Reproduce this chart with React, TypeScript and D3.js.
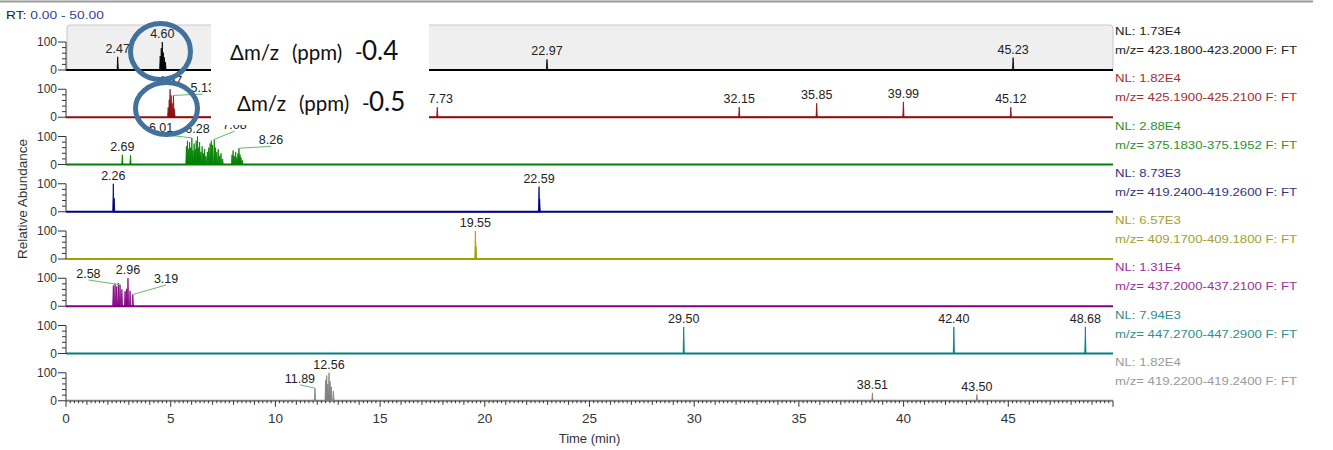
import React from 'react';
import * as d3 from 'd3';

// Retention time axis and abundance axis
const rtDomain: [number, number] = [0, 50];
const rtTicks = [0, 5, 10, 15, 20, 25, 30, 35, 40, 45];
const abundanceDomain: [number, number] = [0, 100];
const abundanceTicks = [0, 100];
const abundanceMinor = [20, 40, 60, 80];

// Normalisation levels and mass ranges, one per trace
const nlValues = ['1.73E4', '1.82E4', '2.88E4', '8.73E3', '6.57E3', '1.31E4', '7.94E3', '1.82E4'];
const mzRanges = [
  '423.1800-423.2000',
  '425.1900-425.2100',
  '375.1830-375.1952',
  '419.2400-419.2600',
  '409.1700-409.1800',
  '437.2000-437.2100',
  '447.2700-447.2900',
  '419.2200-419.2400',
];

// Peaks: [retention time (min), relative abundance (%)]
const peaksA = [[2.47, 47], [4.5, 50], [4.55, 78], [4.6, 100], [4.65, 62], [4.7, 45], [4.75, 28], [22.97, 38], [45.23, 44]];
const peaksB = [[4.88, 35], [4.93, 62], [4.97, 100], [5.02, 78], [5.07, 50], [5.13, 78], [5.18, 30], [17.73, 36], [32.15, 36], [35.85, 50], [39.99, 55], [45.12, 36]];
const peaksC = [
  [2.69, 35], [3.08, 33],
  [5.75, 65], [5.8, 85], [5.85, 55], [5.9, 80], [5.95, 60], [6.01, 95], [6.06, 50], [6.12, 75], [6.17, 55], [6.22, 85],
  [6.28, 100], [6.33, 60], [6.38, 80], [6.44, 45], [6.5, 65], [6.56, 40], [6.62, 55], [6.68, 30], [6.75, 45], [6.82, 60],
  [6.88, 75], [6.94, 85], [7.0, 70], [7.08, 90], [7.14, 60], [7.2, 45], [7.27, 55], [7.33, 30], [7.4, 40], [7.48, 20],
  [7.93, 35], [7.98, 50], [8.04, 30], [8.1, 45], [8.16, 25], [8.21, 40], [8.26, 58], [8.31, 35], [8.36, 25], [8.42, 15],
];
const peaksD = [[2.26, 100], [2.3, 48], [22.59, 90], [22.62, 45]];
const peaksE = [[19.55, 100], [19.58, 45]];
const peaksF = [[2.26, 74], [2.34, 81], [2.42, 71], [2.5, 83], [2.58, 77], [2.67, 60], [2.82, 54], [2.89, 62], [2.96, 100], [3.06, 55], [3.19, 42]];
const peaksG = [[29.5, 95], [42.4, 95], [48.68, 95]];
const peaksH = [[11.89, 45], [12.4, 75], [12.45, 90], [12.5, 60], [12.56, 100], [12.61, 70], [12.67, 50], [12.77, 35], [38.51, 28], [43.5, 22]];

// Peak labels: [peak rt, label rt, label level]; the last two only where the label is moved aside
const labelsA = [[2.47], [4.6], [22.97], [45.23]];
const labelsB = [[4.97], [5.13, 6.53, 90], [17.73], [32.15], [35.85], [39.99], [45.12]];
const labelsC = [[2.69], [6.01, 4.54, 115], [6.28], [7.08, 8.05, 126], [8.26, 9.79, 72]];
const labelsD = [[2.26], [22.59]];
const labelsE = [[19.55]];
const labelsF = [[2.58, 1.07, 101], [2.96], [3.19, 4.78, 83]];
const labelsG = [[29.5], [42.4], [48.68]];
const labelsH = [[11.89, 11.17, 64], [12.56], [38.51], [43.5]];

const allPeaks = [peaksA, peaksB, peaksC, peaksD, peaksE, peaksF, peaksG, peaksH];
const allLabels = [labelsA, labelsB, labelsC, labelsD, labelsE, labelsF, labelsG, labelsH];

// Styles
const lineColors = ['#000000', '#8b1010', '#008000', '#000080', '#a0a000', '#800080', '#008080', '#808080'];
const textColors = ['#222222', '#a03030', '#2e922e', '#333380', '#a0a030', '#993399', '#2f8f8f', '#9a9a9a'];
const font = '"Liberation Sans", Arial, sans-serif';

const W = 1333;
const H = 450;
const plotLeft = 66;
const plotRight = 1113;
const firstBase = 70;
const panelStep = 47.25;
const panelH = 28;

const App: React.FC = () => {
  const x = d3.scaleLinear().domain(rtDomain).range([plotLeft, plotRight]);
  const halfWidth = 0.03;

  const panels = allPeaks.map((peaks, i) => {
    const base = firstBase + panelStep * i;
    const y = d3.scaleLinear().domain(abundanceDomain).range([base, base - panelH]);
    const pts: [number, number][] = [];
    [...peaks]
      .sort((a, b) => a[0] - b[0])
      .forEach(([rt, h]) => {
        pts.push([rt - halfWidth, 0], [rt, h], [rt + halfWidth, 0]);
      });
    const area = d3
      .area<[number, number]>()
      .x(d => x(d[0]))
      .y0(base)
      .y1(d => y(d[1]));
    return { base, y, path: area(pts) || '' };
  });

  const minorRt = d3.range(0, 50.001, 0.2).map(v => Math.round(v * 10) / 10);
  const lastBase = panels[panels.length - 1].base;

  return (
    <svg
      width={W}
      height={H}
      style={{ position: 'absolute', left: 0, top: 0, background: '#fff' }}
      fontFamily={font}
    >
      {/* top separator */}
      <line x1={0} x2={1313} y1={1.5} y2={1.5} stroke="#999" strokeWidth={2} />

      <text transform="translate(6,19) scale(1.2,1)" fontSize={11.5} fill="#222">
        RT: <tspan fill="#3340a0">0.00 - 50.00</tspan>
      </text>

      {/* highlighted first trace */}
      <rect
        x={plotLeft + 1}
        y={25}
        width={plotRight - plotLeft - 1}
        height={firstBase - 25}
        rx={3}
        fill="#efefef"
        stroke="#c8c8c8"
        strokeWidth={1}
      />

      {panels.map((p, i) => (
        <g key={i}>
          {/* trace */}
          <path d={p.path} fill={lineColors[i]} stroke={lineColors[i]} strokeWidth={0.8} />
          <line x1={plotLeft} x2={plotRight} y1={p.base} y2={p.base} stroke={lineColors[i]} strokeWidth={2} />

          {/* y axis */}
          <line x1={plotLeft} x2={plotLeft} y1={p.base} y2={p.y(100)} stroke="#333" strokeWidth={1} />
          {abundanceTicks.map(t => (
            <g key={t}>
              <line x1={plotLeft - 8} x2={plotLeft} y1={p.y(t)} y2={p.y(t)} stroke="#333" strokeWidth={1} />
              <text x={plotLeft - 9} y={p.y(t) + 4} fontSize={12} textAnchor="end" fill="#333">
                {t}
              </text>
            </g>
          ))}
          {abundanceMinor.map(t => (
            <line key={t} x1={plotLeft - 4} x2={plotLeft} y1={p.y(t)} y2={p.y(t)} stroke="#333" strokeWidth={1} />
          ))}

          {/* peak labels */}
          {allLabels[i].map((lab, j) => {
            const rt = lab[0];
            const peak = allPeaks[i].find(pk => pk[0] === rt);
            const h = peak ? peak[1] : 0;
            const px = x(rt);
            const py = p.y(h);
            const moved = lab.length > 1;
            const tx = moved ? x(lab[1]) : px;
            const ty = moved ? p.y(lab[2]) : py - 4;
            return (
              <g key={j}>
                {moved && (
                  <line x1={px} y1={py} x2={tx} y2={ty + 2} stroke="#66b866" strokeWidth={1} />
                )}
                <text x={tx} y={ty} fontSize={12.5} textAnchor="middle" fill="#222">
                  {rt.toFixed(2)}
                </text>
              </g>
            );
          })}

          {/* trace description */}
          <text transform={`translate(1115,${p.base - 35}) scale(1.2,1)`} fontSize={11} fill={textColors[i]}>
            NL: {nlValues[i]}
          </text>
          <text transform={`translate(1115,${p.base - 16}) scale(1.2,1)`} fontSize={11} fill={textColors[i]}>
            m/z= {mzRanges[i]} F: FT
          </text>
        </g>
      ))}

      {/* time axis */}
      {minorRt.map(v => {
        const major = Math.abs(v % 5) < 1e-6;
        const whole = Math.abs(v - Math.round(v)) < 1e-6;
        const len = major ? 6 : whole ? 4 : 2.5;
        return (
          <line key={v} x1={x(v)} x2={x(v)} y1={lastBase} y2={lastBase + len} stroke="#333" strokeWidth={1} />
        );
      })}
      {rtTicks.map(t => (
        <text key={t} x={x(t)} y={423} fontSize={13.5} textAnchor="middle" fill="#333">
          {t}
        </text>
      ))}
      <text x={x(25)} y={443} fontSize={13} textAnchor="middle" fill="#333">
        Time (min)
      </text>
      <text transform="translate(27,199) rotate(-90)" fontSize={13.5} textAnchor="middle" fill="#333">
        Relative Abundance
      </text>

      {/* annotation overlay */}
      <rect x={211} y={18} width={218} height={107} fill="#fff" />
      <g fontFamily='Lato, "Open Sans", sans-serif' fill="#111">
        <text y={60} fontSize={20.5}>
          <tspan x={230}>Δm/z</tspan>
          <tspan x={292}>(ppm)</tspan>
          <tspan x={355}>-</tspan>
          <tspan x={362} fontSize={26}>0.4</tspan>
        </text>
        <text y={111} fontSize={20.5}>
          <tspan x={237}>Δm/z</tspan>
          <tspan x={299}>(ppm)</tspan>
          <tspan x={362}>-</tspan>
          <tspan x={369} fontSize={26}>0.5</tspan>
        </text>
      </g>
      <ellipse cx={160.5} cy={51.5} rx={30} ry={28} fill="none" stroke="#41719c" strokeWidth={5} />
      <ellipse cx={166.5} cy={108.5} rx={31} ry={26} fill="none" stroke="#41719c" strokeWidth={5} />
    </svg>
  );
};

export default App;
